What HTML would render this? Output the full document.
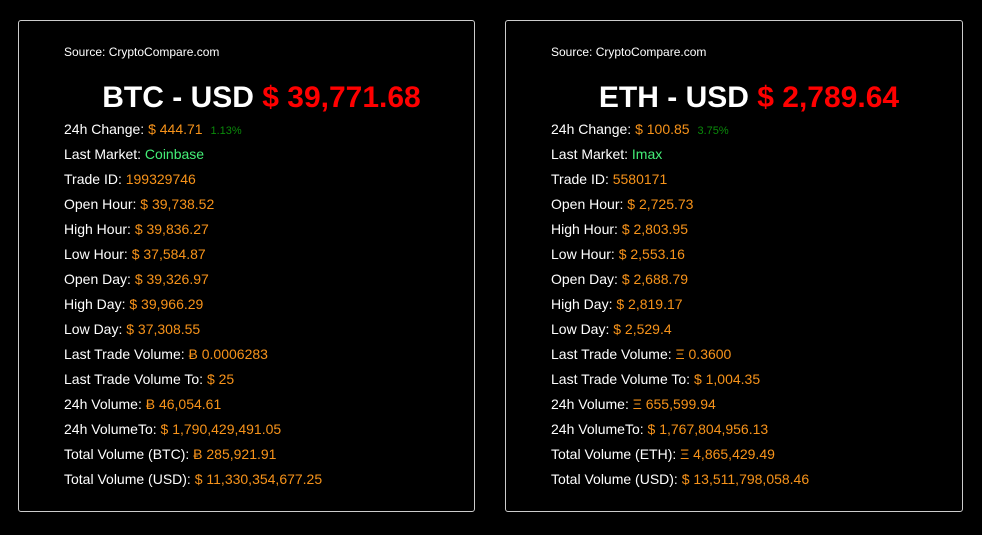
<!DOCTYPE html>
<html><head><meta charset="utf-8"><style>
body{margin:0;background:#000;width:982px;height:535px;overflow:hidden;font-family:"Liberation Sans",Arial,sans-serif;color:#fff}
.card{position:absolute;top:20px;width:457px;height:492px;border:1px solid #ccc;border-radius:3px;box-sizing:border-box}
.src{position:absolute;left:45px;top:24px;font-size:12px}
.title{position:absolute;left:30px;right:0;top:59px;text-align:center;font-size:30px;font-weight:bold;line-height:36px}
.title .p{color:#f00}
.rows{position:absolute;left:45px;top:99px}
.row{height:25px;line-height:18px;font-size:14px;white-space:nowrap}
.o{color:#f7931a}
.g{color:#44ee77}
.pc{color:#0a8a0a;font-size:11px;margin-left:4px}
</style></head><body>
<div class="card" style="left:18px">
<div class="src">Source: CryptoCompare.com</div>
<div class="title">BTC - USD <span class="p">$ 39,771.68</span></div>
<div class="rows">
<div class="row">24h Change: <span class="o">$ 444.71</span> <span class="pc">1.13%</span></div>
<div class="row">Last Market: <span class="g">Coinbase</span></div>
<div class="row">Trade ID: <span class="o">199329746</span></div>
<div class="row">Open Hour: <span class="o">$ 39,738.52</span></div>
<div class="row">High Hour: <span class="o">$ 39,836.27</span></div>
<div class="row">Low Hour: <span class="o">$ 37,584.87</span></div>
<div class="row">Open Day: <span class="o">$ 39,326.97</span></div>
<div class="row">High Day: <span class="o">$ 39,966.29</span></div>
<div class="row">Low Day: <span class="o">$ 37,308.55</span></div>
<div class="row">Last Trade Volume: <span class="o">Ƀ 0.0006283</span></div>
<div class="row">Last Trade Volume To: <span class="o">$ 25</span></div>
<div class="row">24h Volume: <span class="o">Ƀ 46,054.61</span></div>
<div class="row">24h VolumeTo: <span class="o">$ 1,790,429,491.05</span></div>
<div class="row">Total Volume (BTC): <span class="o">Ƀ 285,921.91</span></div>
<div class="row">Total Volume (USD): <span class="o">$ 11,330,354,677.25</span></div>
</div></div>
<div class="card" style="left:505px;width:458px">
<div class="src">Source: CryptoCompare.com</div>
<div class="title">ETH - USD <span class="p">$ 2,789.64</span></div>
<div class="rows">
<div class="row">24h Change: <span class="o">$ 100.85</span> <span class="pc">3.75%</span></div>
<div class="row">Last Market: <span class="g">Imax</span></div>
<div class="row">Trade ID: <span class="o">5580171</span></div>
<div class="row">Open Hour: <span class="o">$ 2,725.73</span></div>
<div class="row">High Hour: <span class="o">$ 2,803.95</span></div>
<div class="row">Low Hour: <span class="o">$ 2,553.16</span></div>
<div class="row">Open Day: <span class="o">$ 2,688.79</span></div>
<div class="row">High Day: <span class="o">$ 2,819.17</span></div>
<div class="row">Low Day: <span class="o">$ 2,529.4</span></div>
<div class="row">Last Trade Volume: <span class="o">Ξ 0.3600</span></div>
<div class="row">Last Trade Volume To: <span class="o">$ 1,004.35</span></div>
<div class="row">24h Volume: <span class="o">Ξ 655,599.94</span></div>
<div class="row">24h VolumeTo: <span class="o">$ 1,767,804,956.13</span></div>
<div class="row">Total Volume (ETH): <span class="o">Ξ 4,865,429.49</span></div>
<div class="row">Total Volume (USD): <span class="o">$ 13,511,798,058.46</span></div>
</div></div>
</body></html>
